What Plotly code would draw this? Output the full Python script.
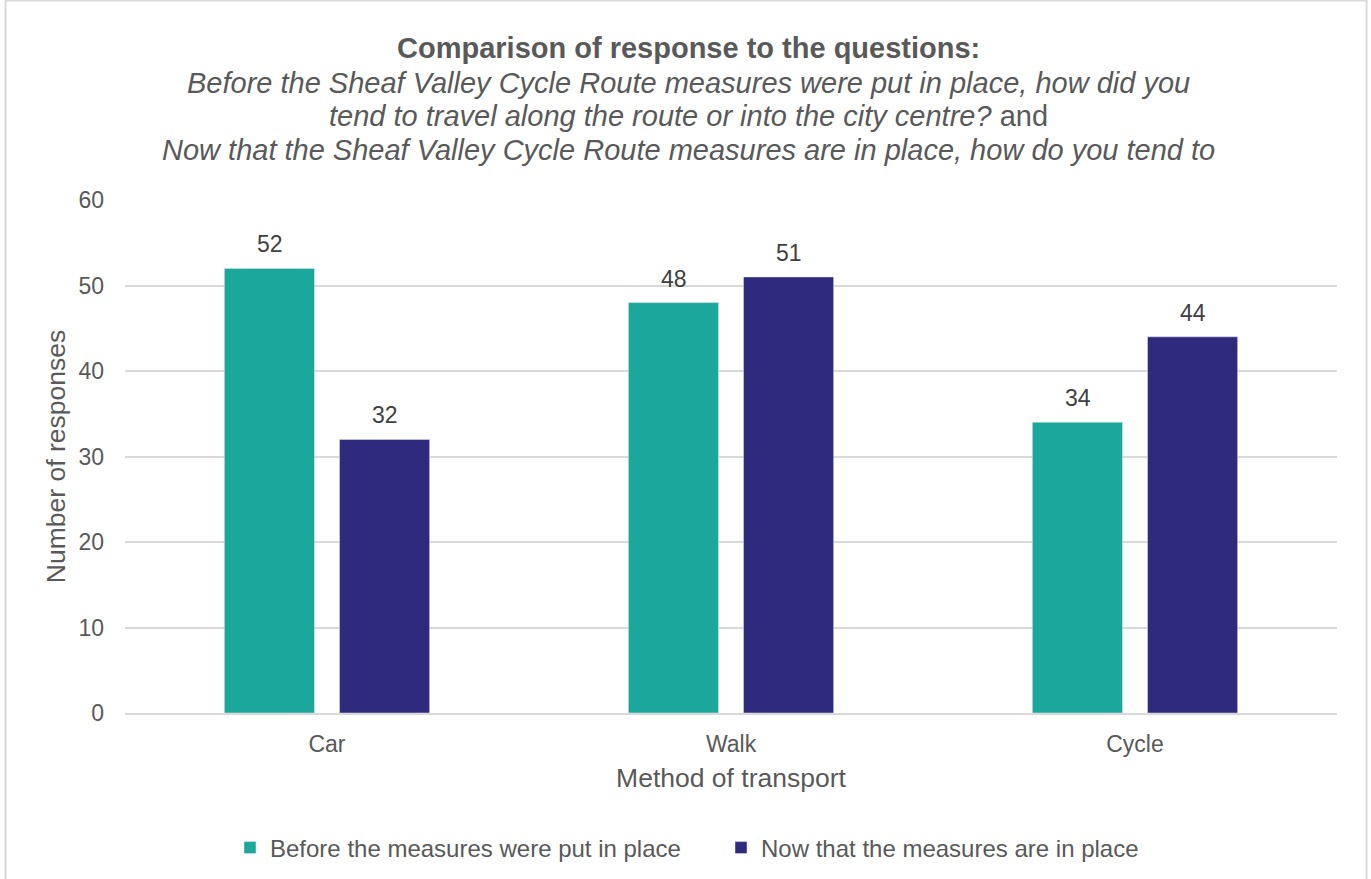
import plotly.graph_objects as go

categories = ["Car", "Walk", "Cycle"]
before_values = [52, 48, 34]
now_values = [32, 51, 44]
series_names = ["Before the measures were put in place", "Now that the measures are in place"]
y_ticks = [0, 10, 20, 30, 40, 50, 60]

title_line1 = "<b>Comparison of response to the questions:</b>"
title_line2 = "<i>Before the Sheaf Valley Cycle Route measures were put in place, how did you</i>"
title_line3 = "<i>tend to travel along the route or into the city centre?</i> and"
title_line4 = "<i>Now that the Sheaf Valley Cycle Route measures are in place, how do you tend to</i>"

FONT = "Liberation Sans, Arial, sans-serif"
TEXT = "#595959"
LABEL = "#404040"
TEAL = "#1BA89B"
NAVY = "#2E2A7E"
GRID = "#D9D9D9"

fig = go.Figure()
fig.add_trace(go.Bar(x=categories, y=before_values, name=series_names[0], marker_color=TEAL))
fig.add_trace(go.Bar(x=categories, y=now_values, name=series_names[1], marker_color=NAVY))

ml, mr, mt, mb = 125, 34, 200, 166
W, H = 1371, 879
pw, ph = W - ml - mr, H - mt - mb

def px_to_paper_y(py):
    return (H - mb - py) / ph

def px_to_paper_x(px):
    return (px - ml) / pw

annotations = []
title_lines = [(title_line1, 48), (title_line2, 83), (title_line3, 116), (title_line4, 150)]
for txt, yy in title_lines:
    annotations.append(dict(
        text=txt, xref="paper", yref="paper", x=px_to_paper_x(688), y=px_to_paper_y(yy),
        xanchor="center", yanchor="middle", showarrow=False,
        font=dict(family=FONT, size=29, color=TEXT),
    ))

# data labels above each bar (grouped offsets of half a bar slot)
slot_shift = 57.5
for series, shift in ((before_values, -slot_shift), (now_values, slot_shift)):
    for cat, val in zip(categories, series):
        annotations.append(dict(
            text=str(val), x=cat, y=val, xref="x", yref="y",
            xshift=shift, yshift=24, xanchor="center", yanchor="middle",
            showarrow=False, font=dict(family=FONT, size=23, color=LABEL),
        ))

fig.update_layout(
    width=W, height=H,
    margin=dict(l=ml, r=mr, t=mt, b=mb, autoexpand=False),
    paper_bgcolor="white", plot_bgcolor="white",
    barmode="group", bargap=0.43, bargroupgap=0.217,
    font=dict(family=FONT, size=23, color=TEXT),
    showlegend=True,
    legend=dict(
        orientation="h", x=px_to_paper_x(230), xanchor="left",
        y=px_to_paper_y(848), yanchor="middle",
        font=dict(family=FONT, size=24, color=TEXT),
        traceorder="normal", entrywidth=446, entrywidthmode="pixels",
    ),
    annotations=annotations,
    xaxis=dict(
        showgrid=False, showline=True, linecolor=GRID, linewidth=1.5,
        ticks="", tickfont=dict(family=FONT, size=23, color=TEXT),
        ticklabelstandoff=10,
        title=dict(text="Method of transport", font=dict(family=FONT, size=26.5, color=TEXT), standoff=12),
    ),
    yaxis=dict(
        range=[0, 60], tickvals=y_ticks, showgrid=True, gridcolor=GRID, gridwidth=1.5,
        zeroline=False, showline=False, ticks="",
        tickfont=dict(family=FONT, size=23, color=TEXT),
        ticklabelstandoff=20,
        title=dict(text="Number of responses", font=dict(family=FONT, size=26.5, color=TEXT), standoff=5),
    ),
    shapes=[dict(
        type="rect", xref="paper", yref="paper",
        x0=px_to_paper_x(5.5), x1=px_to_paper_x(1366.5),
        y0=px_to_paper_y(885), y1=px_to_paper_y(0.5),
        line=dict(color=GRID, width=2), fillcolor="rgba(0,0,0,0)", layer="below",
    )],
)

fig.write_html("out.html", config={"displayModeBar": False},
               post_script="document.body.style.margin='0px';")
